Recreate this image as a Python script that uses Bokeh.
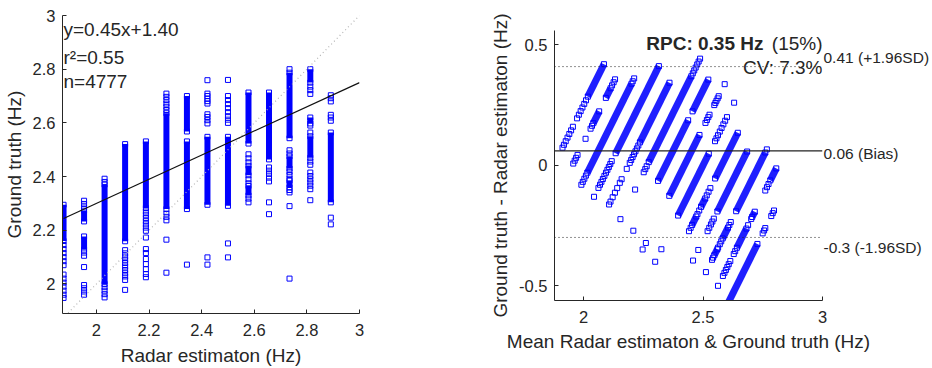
import numpy as np
from bokeh.plotting import figure
from bokeh.layouts import row, column
from bokeh.models import Range1d, FixedTicker, Label, LinearAxis
from bokeh.embed import file_html
from bokeh.resources import INLINE

# ---- data -------------------------------------------------------------
# quantised radar estimates (Hz), one column of readings per level
radar_levels = [1.875, 1.953, 2.031, 2.109, 2.188, 2.266, 2.344,
                2.422, 2.500, 2.578, 2.656, 2.734, 2.813, 2.891]

# individually visible ground-truth readings, grouped by radar level
point_count = [13, 10, 6, 11, 15, 11, 1, 12, 11, 7, 7, 10, 14, 8]
point_truth = [
    1.948, 1.960, 1.975, 1.990, 2.005, 2.020, 2.035, 2.070, 2.085, 2.100, 2.115, 2.130, 2.145,
    1.960, 1.972, 1.984, 1.996, 2.063, 2.105, 2.117, 2.285, 2.298, 2.310,
    1.950, 1.962, 1.975, 1.988, 2.380, 2.392,
    1.978, 2.015, 2.028, 2.040, 2.052, 2.065, 2.078, 2.090, 2.102, 2.114, 2.126,
    2.025, 2.037, 2.055, 2.074, 2.093, 2.115, 2.130, 2.173, 2.198, 2.210, 2.222, 2.234, 2.246, 2.258, 2.270,
    2.042, 2.165, 2.237, 2.250, 2.262, 2.648, 2.660, 2.672, 2.685, 2.697, 2.709,
    2.072,
    2.072, 2.099, 2.598, 2.610, 2.622, 2.632, 2.672, 2.681, 2.690, 2.700, 2.709, 2.759,
    2.099, 2.151, 2.600, 2.612, 2.625, 2.640, 2.655, 2.670, 2.685, 2.700, 2.760,
    2.304, 2.318, 2.375, 2.390, 2.453, 2.468, 2.483,
    2.260, 2.304, 2.382, 2.396, 2.410, 2.422, 2.434,
    2.020, 2.290, 2.341, 2.350, 2.392, 2.406, 2.418, 2.486, 2.498, 2.800,
    2.312, 2.353, 2.366, 2.378, 2.390, 2.402, 2.415, 2.444, 2.456, 2.564, 2.590, 2.708, 2.722, 2.735,
    2.222, 2.247, 2.608, 2.620, 2.630, 2.680, 2.692, 2.703,
]

# densely packed stretches of ground-truth readings (low..high) per radar level
run_radar = [1.875, 1.953, 1.953, 2.031, 2.109, 2.188, 2.266, 2.344, 2.344,
             2.422, 2.500, 2.578, 2.578, 2.578, 2.656, 2.734, 2.734, 2.734,
             2.813, 2.813, 2.813, 2.891]
run_low = [2.160, 2.128, 2.233, 2.000, 2.159, 2.283, 2.279, 2.279, 2.568,
           2.295, 2.291, 2.330, 2.405, 2.523, 2.464, 2.360, 2.430, 2.543,
           2.470, 2.598, 2.750, 2.304]
run_high = [2.295, 2.177, 2.273, 2.370, 2.521, 2.531, 2.636, 2.531, 2.700,
            2.548, 2.548, 2.365, 2.440, 2.713, 2.713, 2.385, 2.475, 2.787,
            2.550, 2.620, 2.800, 2.564]

# summary statistics
fit_slope, fit_intercept = 0.45, 1.40
r_squared = 0.55
n_pairs = 4777
bias = 0.06
loa_upper = 0.41
loa_lower = -0.3
rpc = 0.35
rpc_pct = 15
cv_pct = 7.3

# axis limits and ticks
corr_xlim = (1.871, 3.0)
corr_ylim = (1.89, 3.0)
corr_ticks = [2.0, 2.2, 2.4, 2.6, 2.8, 3.0]
ba_xlim = (1.878, 3.0)
ba_ylim = (-0.562, 0.56)
ba_xticks = [2.0, 2.5, 3.0]
ba_yticks = [-0.5, 0.0, 0.5]

# ---- derived quantities ------------------------------------------------
point_radar = np.repeat(radar_levels, point_count)
point_truth = np.asarray(point_truth)
run_radar = np.asarray(run_radar)
run_low = np.asarray(run_low)
run_high = np.asarray(run_high)

pt_mean = (point_radar + point_truth) / 2
pt_diff = point_truth - point_radar
run_mean_lo = (run_radar + run_low) / 2
run_diff_lo = run_low - run_radar
run_mean_hi = (run_radar + run_high) / 2
run_diff_hi = run_high - run_radar

BLUE = "#0000ff"
INK = "#262626"
FONT = "Liberation Sans"


def style(p, xticks, yticks, xlabel_gap):
    p.outline_line_color = None
    p.xgrid.grid_line_color = None
    p.ygrid.grid_line_color = None
    p.background_fill_color = "white"
    p.border_fill_color = "white"
    for ax, ticks, standoff, gap in ((p.xaxis[0], xticks, 10, xlabel_gap),
                                     (p.yaxis[0], yticks, 7, 5)):
        ax.ticker = FixedTicker(ticks=ticks)
        ax.major_label_overrides = {t: f"{t:g}" for t in ticks}
        ax.major_tick_in = 4
        ax.major_tick_out = 0
        ax.minor_tick_in = 0
        ax.minor_tick_out = 0
        ax.axis_line_color = INK
        ax.major_tick_line_color = INK
        ax.major_label_text_font = FONT
        ax.major_label_text_font_size = "16.5px"
        ax.major_label_text_color = INK
        ax.major_label_standoff = standoff
        ax.axis_label_text_font = FONT
        ax.axis_label_text_font_size = "19px"
        ax.axis_label_text_font_style = "normal"
        ax.axis_label_text_color = INK
        ax.axis_label_standoff = gap


def text(p, x, y, s, **kw):
    opts = dict(text_font=FONT, text_font_size="19px", text_color=INK,
                text_baseline="alphabetic")
    opts.update(kw)
    p.add_layout(Label(x=x, y=y, text=s, **opts))


# ---- correlation plot ---------------------------------------------------
p1 = figure(width=480, height=368, output_backend="svg", toolbar_location=None,
            tools="", x_range=Range1d(*corr_xlim), y_range=Range1d(*corr_ylim),
            x_axis_label="Radar estimaton (Hz)", y_axis_label="Ground truth (Hz)",
            min_border_left=61, min_border_right=121,
            min_border_top=15, min_border_bottom=55)
style(p1, corr_ticks, corr_ticks, 6)

p1.segment(x0=run_radar, y0=run_low, x1=run_radar, y1=run_high,
           line_width=6, line_color=BLUE)
p1.scatter(x=np.concatenate([point_radar, run_radar, run_radar]),
           y=np.concatenate([point_truth, run_low, run_high]),
           marker="square", size=5, line_color=BLUE, line_width=1, fill_alpha=0)

# identity line and least-squares fit
p1.line(x=list(corr_xlim), y=list(corr_xlim), line_color="#b4b4b4",
        line_dash="1 3", line_width=1.2)
fit_x = np.array([min(radar_levels), corr_xlim[1]])
p1.line(x=fit_x, y=fit_slope * fit_x + fit_intercept, line_color="#111111",
        line_width=1.2)

text(p1, corr_xlim[0], 2.948, f"y={fit_slope:.2f}x+{fit_intercept:.2f}", x_offset=1)
text(p1, corr_xlim[0], 2.842, f"r\u00b2={r_squared:.2f}", x_offset=1)
text(p1, corr_xlim[0], 2.753, f"n={n_pairs}", x_offset=1)

# ---- Bland-Altman plot --------------------------------------------------
p2 = figure(width=452, height=368, output_backend="svg", toolbar_location=None,
            tools="", x_range=Range1d(*ba_xlim), y_range=Range1d(*ba_ylim),
            x_axis_label="Mean Radar estimaton & Ground truth (Hz)",
            y_axis_label="Ground truth - Radar estimaton (Hz)",
            min_border_left=74, min_border_right=109,
            min_border_top=30, min_border_bottom=68)
style(p2, ba_xticks, ba_yticks, 5)

p2.segment(x0=run_mean_lo, y0=run_diff_lo, x1=run_mean_hi, y1=run_diff_hi,
           line_width=7, line_color=BLUE, line_alpha=0.88)
p2.scatter(x=np.concatenate([pt_mean, run_mean_lo, run_mean_hi]),
           y=np.concatenate([pt_diff, run_diff_lo, run_diff_hi]),
           marker="square", size=5, line_color=BLUE, line_width=1, fill_alpha=0)

p2.segment(x0=[ba_xlim[0]] * 2, y0=[loa_upper, loa_lower],
           x1=[ba_xlim[1]] * 2, y1=[loa_upper, loa_lower],
           line_color="#222222", line_width=1, line_dash="1 3")
p2.segment(x0=[ba_xlim[0]], y0=[bias], x1=[ba_xlim[1]], y1=[bias],
           line_color="#222222", line_width=1.2)

text(p2, ba_xlim[1], 0.506, f"({rpc_pct}%)", text_align="right")
text(p2, ba_xlim[1], 0.506, f"RPC: {rpc:.2f} Hz", text_align="right",
     text_font_style="bold", x_offset=-59)
text(p2, ba_xlim[1], 0.406, f"CV: {cv_pct}%", text_align="right")

# limit-of-agreement captions, set just outside the right edge of the axes
caption_pos = [loa_upper + 0.039, bias - 0.013, loa_lower - 0.041]
caption_txt = [f"{loa_upper:g} (+1.96SD)", f"{bias:g} (Bias)", f"{loa_lower:g} (-1.96SD)"]
cap_axis = LinearAxis(ticker=FixedTicker(ticks=caption_pos),
                      major_label_overrides=dict(zip(caption_pos, caption_txt)),
                      axis_line_color=None, major_tick_line_color=None,
                      minor_tick_line_color=None, major_tick_in=0, major_tick_out=0,
                      major_label_standoff=1, major_label_text_font=FONT,
                      major_label_text_font_size="15.5px",
                      major_label_text_color=INK)
p2.add_layout(cap_axis, "right")

layout = row(column(p1), column(p2), spacing=0)
open("out.html", "w").write(file_html(layout, INLINE))
